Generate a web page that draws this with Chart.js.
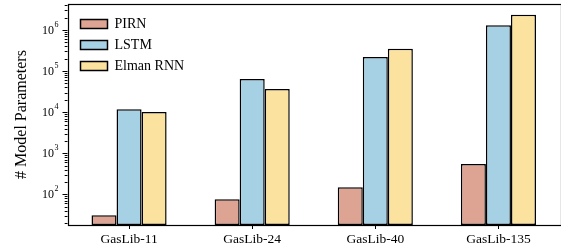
<!DOCTYPE html>
<html>
<head>
<meta charset="utf-8">
<script src="https://cdn.jsdelivr.net/npm/chart.js@4/dist/chart.umd.min.js"></script>
<style>
  html, body { margin: 0; padding: 0; background: #fff; }
  canvas { display: block; }
</style>
</head>
<body>
<canvas id="chart" width="561" height="247"></canvas>
<script>
const categories = ["GasLib-11", "GasLib-24", "GasLib-40", "GasLib-135"];
const pirn = [31, 76, 148, 550];
const lstm = [11700, 64000, 220000, 1300000];
const elman = [10100, 36700, 350000, 2360000];
const yMajorExponents = [2, 3, 4, 5, 6];

const SERIF = "'Liberation Serif', 'Times New Roman', serif";

// nudge the in-plot legend away from the frame corner
const legendShift = {
  id: "legendShift",
  afterLayout(chart) {
    const lg = chart.legend;
    if (!lg) return;
    lg.left += 6; lg.right += 6;
    lg.top += 10; lg.bottom += 10;
  },
};

// y ticks (major + minor), sup labels and the full frame
const axesPlugin = {
  id: "axesFrame",
  afterDraw(chart) {
    const { ctx, chartArea: a } = chart;
    const y = chart.scales.y;
    ctx.save();
    ctx.strokeStyle = "#000";
    ctx.lineWidth = 1;
    for (let k = 1; k <= 6; k++) {
      for (let m = 1; m <= 9; m++) {
        const v = m * Math.pow(10, k);
        if (v < y.min || v > y.max) continue;
        const py = Math.round(y.getPixelForValue(v)) + 0.5;
        const len = m === 1 ? 5 : 2.8;
        ctx.beginPath();
        ctx.moveTo(a.left - len, py);
        ctx.lineTo(a.left, py);
        ctx.stroke();
      }
    }
    ctx.fillStyle = "#000";
    ctx.textBaseline = "middle";
    yMajorExponents.forEach((e) => {
      const py = y.getPixelForValue(Math.pow(10, e));
      ctx.font = `8px ${SERIF}`;
      const ew = ctx.measureText(String(e)).width;
      ctx.textAlign = "right";
      const right = a.left - 9;
      ctx.fillText(String(e), right, py - 5);
      ctx.font = `12px ${SERIF}`;
      ctx.fillText("10", right - ew - 0.5, py + 0.5);
    });
    ctx.lineWidth = 1.2;
    ctx.strokeRect(Math.round(a.left) + 0.5, Math.round(a.top) + 0.5,
      Math.round(a.right - a.left), Math.round(a.bottom - a.top));
    ctx.restore();
  },
};

new Chart(document.getElementById("chart"), {
  type: "bar",
  data: {
    labels: categories,
    datasets: [
      { label: "PIRN", data: pirn, backgroundColor: "#dda493" },
      { label: "LSTM", data: lstm, backgroundColor: "#a6d0e4" },
      { label: "Elman RNN", data: elman, backgroundColor: "#fbe29e" },
    ].map((d) => ({
      ...d,
      borderColor: "#000",
      borderWidth: 1.5,
      borderSkipped: false,
      categoryPercentage: 0.61,
      barPercentage: 1.0,
    })),
  },
  options: {
    responsive: false,
    animation: false,
    devicePixelRatio: 1,
    layout: { padding: { top: 4, right: 1, left: 0, bottom: 0 } },
    plugins: {
      tooltip: { enabled: false },
      legend: {
        position: "chartArea",
        align: "start",
        labels: {
          boxWidth: 27,
          boxHeight: 9,
          padding: 7,
          color: "#000",
          font: { family: SERIF, size: 14 },
        },
      },
    },
    scales: {
      x: {
        grid: {
          display: true,
          drawOnChartArea: false,
          offset: false,
          tickLength: 4,
          color: "#000",
        },
        border: { display: false },
        ticks: { color: "#000", padding: 2, font: { family: SERIF, size: 13.5 } },
        afterFit: (s) => { s.height = 22; },
      },
      y: {
        type: "logarithmic",
        min: 17.9,
        max: 4.3e6,
        grid: { display: false },
        border: { display: false },
        ticks: { display: false },
        title: {
          display: true,
          text: "# Model Parameters",
          color: "#000",
          padding: { top: 12, bottom: 0 },
          font: { family: SERIF, size: 16 },
        },
        afterFit: (s) => { s.width = 67.5; },
      },
    },
  },
  plugins: [legendShift, axesPlugin],
});
</script>
</body>
</html>
